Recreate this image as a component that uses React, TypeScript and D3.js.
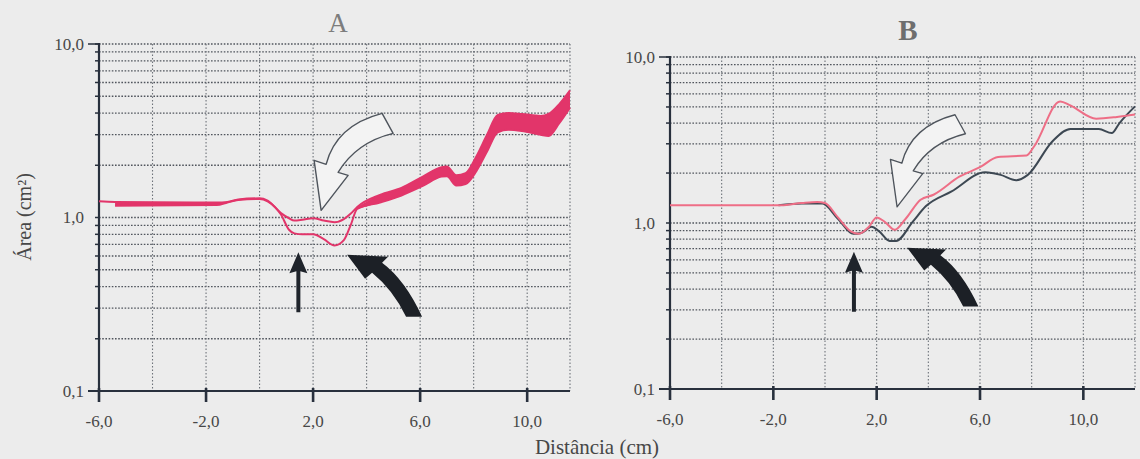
import React from "react";
import * as d3 from "d3";

// Panel A: pink band (upper and lower edge of the traced lumen area)
const distA = [-6.0, -5.4, -1.6, -1.2, -0.8, 0.0, 0.3, 0.8, 1.1, 1.3, 1.6, 2.0, 2.4, 2.8, 3.15, 3.4, 3.65, 4.5, 5.3, 6.1, 6.8, 7.0, 7.35, 7.7, 8.1, 8.5, 8.9, 9.3, 9.8, 10.5, 10.8, 11.2, 11.6];
const upperA = [1.24, 1.23, 1.22, 1.23, 1.27, 1.29, 1.25, 1.06, 0.99, 0.96, 0.97, 0.99, 0.96, 0.94, 0.98, 1.05, 1.15, 1.35, 1.48, 1.72, 1.95, 1.97, 1.75, 1.8, 2.25, 3.0, 3.9, 4.0, 3.95, 3.85, 3.95, 4.5, 5.4];
const lowerA = [null, 1.17, 1.18, 1.22, 1.26, 1.28, 1.24, 1.04, 0.85, 0.81, 0.8, 0.8, 0.75, 0.69, 0.74, 0.9, 1.12, 1.22, 1.34, 1.52, 1.72, 1.73, 1.53, 1.56, 1.85, 2.4, 3.1, 3.2, 3.15, 3.0, 2.95, 3.5, 4.3];

// Panel B: pink and dark grey curves
const distPinkB = [-6.0, -1.7, -0.9, -0.3, 0.0, 0.5, 1.0, 1.3, 1.7, 2.0, 2.3, 2.7, 3.1, 3.7, 4.2, 5.2, 6.0, 6.7, 7.8, 8.1, 9.1, 9.5, 10.5, 11.3, 12.0];
const areaPinkB = [1.28, 1.28, 1.32, 1.34, 1.32, 1.08, 0.89, 0.86, 0.95, 1.08, 1.02, 0.91, 1.05, 1.38, 1.48, 1.9, 2.17, 2.5, 2.55, 2.9, 5.4, 5.1, 4.25, 4.35, 4.5];
const distGrayB = [-1.8, -0.9, -0.1, 0.5, 1.1, 1.4, 1.8, 2.1, 2.5, 2.75, 3.4, 3.9, 4.9, 6.2, 6.8, 7.4, 7.85, 8.8, 9.5, 10.6, 11.1, 11.4, 12.0];
const areaGrayB = [1.28, 1.31, 1.31, 1.06, 0.86, 0.87, 0.95, 0.89, 0.78, 0.78, 1.02, 1.26, 1.55, 2.02, 1.95, 1.81, 1.95, 3.1, 3.68, 3.68, 3.48, 4.0, 5.04];

const xTickValues = [-6, -2, 2, 6, 10];
const xTickLabels = ["-6,0", "-2,0", "2,0", "6,0", "10,0"];
const yTickValues = [0.1, 1, 10];
const yTickLabels = ["0,1", "1,0", "10,0"];

const FONT = "'Liberation Serif', 'DejaVu Serif', serif";
const TEXT = "#474747";
const AXIS = "#28303d";
const GRID = "#50555d";

const gridY: number[] = [];
[0.1, 1].forEach(d => { for (let m = 1; m < 10; m++) gridY.push(d * m); });
gridY.push(10);

type Scales = { x: d3.ScaleLinear<number, number>; y: d3.ScaleLogarithmic<number, number> };

function Frame({ x, y, gridXMax }: Scales & { gridXMax: number }) {
  const [x0, x1] = x.range();
  const [yb, yt] = y.range();
  const gridX: number[] = [];
  for (let v = -4; v <= gridXMax; v += 2) gridX.push(v);
  return (
    <g>
      {gridY.map((v, i) => (
        <line key={"h" + i} x1={x0} x2={x1} y1={y(v)} y2={y(v)}
          stroke={GRID} strokeWidth={1.3} strokeDasharray="1.6 1.6" />
      ))}
      {gridX.map((v, i) => (
        <line key={"v" + i} x1={x(v)} x2={x(v)} y1={yt} y2={yb}
          stroke="#6e737a" strokeWidth={1.1} strokeDasharray="1.5 2" />
      ))}
      <line x1={x1} x2={x1} y1={yt} y2={yb} stroke="#6e737a" strokeWidth={1.1} strokeDasharray="1.5 2" />
      {gridY.map((v, i) => (
        <line key={"t" + i} x1={x0 - 4} x2={x0} y1={y(v)} y2={y(v)} stroke={AXIS} strokeWidth={1.5} />
      ))}
      <line x1={x0} x2={x0} y1={yt - 1} y2={yb} stroke={AXIS} strokeWidth={2.2} />
      <line x1={x0 - 11} x2={x1} y1={yb} y2={yb} stroke={AXIS} strokeWidth={2.2} />
      <line x1={x0 - 11} x2={x0} y1={yt} y2={yt} stroke={AXIS} strokeWidth={1.5} />
      {xTickValues.map((v, i) => (
        <g key={"xt" + i}>
          <line x1={x(v)} x2={x(v)} y1={yb - 3} y2={yb + 11} stroke={AXIS} strokeWidth={2.6} />
          <text x={x(v)} y={yb + 36} textAnchor="middle" fontFamily={FONT} fontSize={17} fill={TEXT}>
            {xTickLabels[i]}
          </text>
        </g>
      ))}
      {yTickValues.map((v, i) => (
        <text key={"yt" + i} x={x0 - 15} y={y(v)} dy="0.35em" textAnchor="end"
          fontFamily={FONT} fontSize={17} fill={TEXT}>
          {yTickLabels[i]}
        </text>
      ))}
    </g>
  );
}

const THIN = "M0,0 L9,21 L2,19 L2,60 L-2,60 L-2,19 L-9,21 Z";
const THICK = "M0,0 L41,2 L35,8 Q58,25 75,62 L59,62 Q46,35 25,18 L18,24 Z";
const OPEN = "M0,0 L-7,-50 L5,-46 Q15,-85 61,-97 L72,-77 Q35,-68 17,-38 L27,-35 Z";

function Arrows({ x, y, thin, thick, open, k }: Scales & { thin: number[]; thick: number[]; open: number[]; k: number }) {
  return (
    <g>
      <path d={OPEN} transform={`translate(${x(open[0])},${y(open[1])}) scale(${k})`}
        fill="#f3f3f3" stroke="#4e545c" strokeWidth={1.4} strokeLinejoin="round" />
      <path d={THIN} transform={`translate(${x(thin[0])},${y(thin[1])})`} fill="#1f242b" />
      <path d={THICK} transform={`translate(${x(thick[0])},${y(thick[1])}) scale(${k})`} fill="#1c2026" />
    </g>
  );
}

export default function App() {
  const xA = d3.scaleLinear().domain([-6, 11.6]).range([99, 570]);
  const yA = d3.scaleLog().domain([0.1, 10]).range([391, 44]);
  const xB = d3.scaleLinear().domain([-6, 12]).range([670, 1135]);
  const yB = d3.scaleLog().domain([0.1, 10]).range([389, 57]);

  const idx = distA.map((_, i) => i);
  const bandA = d3.area<number>()
    .defined(i => lowerA[i] != null && (distA[i] <= 0.3 || distA[i] >= 3.65))
    .x(i => xA(distA[i]))
    .y0(i => yA(lowerA[i] as number))
    .y1(i => yA(upperA[i]))
    .curve(d3.curveMonotoneX);
  const upperLineA = d3.line<number>().x(i => xA(distA[i])).y(i => yA(upperA[i])).curve(d3.curveMonotoneX);
  const lowerLineA = d3.line<number>()
    .defined(i => lowerA[i] != null)
    .x(i => xA(distA[i])).y(i => yA(lowerA[i] as number)).curve(d3.curveMonotoneX);

  const lineB = (xs: number[], vs: number[]) =>
    d3.line<number>().x(i => xB(xs[i])).y(i => yB(vs[i])).curve(d3.curveMonotoneX)(xs.map((_, i) => i)) || "";

  const PINK_A = "#e2356a";

  return (
    <svg width={1140} height={459} style={{ position: "absolute", left: 0, top: 0 }}>
      <rect width={1140} height={459} fill="#ececec" />

      <Frame x={xA} y={yA} gridXMax={10} />
      <path d={bandA(idx) || ""} fill={PINK_A} />
      <path d={upperLineA(idx) || ""} fill="none" stroke={PINK_A} strokeWidth={2} />
      <path d={lowerLineA(idx) || ""} fill="none" stroke={PINK_A} strokeWidth={2} />
      <Arrows x={xA} y={yA} thin={[1.45, 0.63]} thick={[3.27, 0.61]} open={[2.3, 1.1]} k={1} />
      <text x={338} y={32} textAnchor="middle" fontFamily={FONT} fontSize={27} fill="#7d7d7d">A</text>

      <Frame x={xB} y={yB} gridXMax={11} />
      <path d={lineB(distGrayB, areaGrayB)} fill="none" stroke="#3d4853" strokeWidth={2} />
      <path d={lineB(distPinkB, areaPinkB)} fill="none" stroke="#ee6e86" strokeWidth={2} />
      <Arrows x={xB} y={yB} thin={[1.12, 0.67]} thick={[3.18, 0.71]} open={[2.79, 1.25]} k={0.95} />
      <text x={908} y={40} textAnchor="middle" fontFamily={FONT} fontSize={29} fontWeight="bold" fill="#6e6e6e">B</text>

      <text transform="translate(31,217) rotate(-90)" textAnchor="middle" fontFamily={FONT} fontSize={20} fill={TEXT}>
        Área (cm²)
      </text>
      <text x={597} y={454} textAnchor="middle" fontFamily={FONT} fontSize={21} fill={TEXT}>
        Distância (cm)
      </text>
    </svg>
  );
}
